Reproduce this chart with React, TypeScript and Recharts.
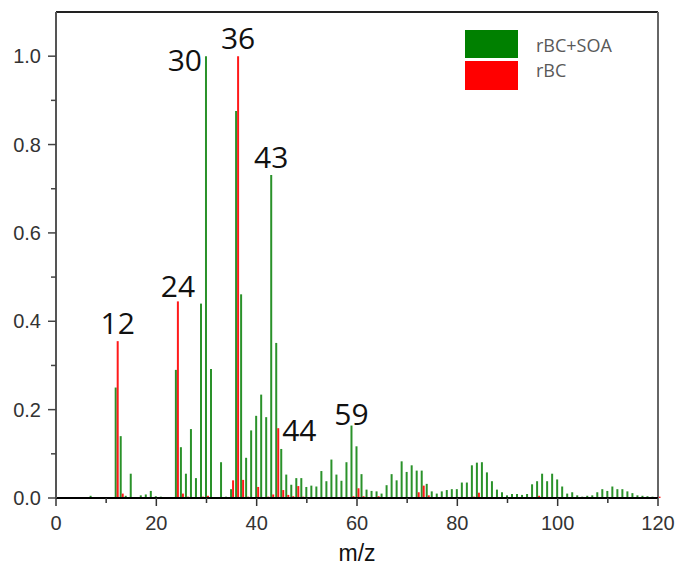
import React from 'react';
import { BarChart, Bar, XAxis, YAxis, ReferenceLine, Legend, LabelList } from 'recharts';

// m/z channels 1..120
const mzValues = Array.from({ length: 120 }, (_, i) => i + 1);

// normalised signal, rBC+SOA (green)
const soaValues = [
  0, 0, 0, 0, 0, 0, 0.005, 0, 0, 0,
  0, 0.25, 0.14, 0.005, 0.055, 0, 0.006, 0.008, 0.016, 0.004,
  0.003, 0, 0, 0.29, 0.115, 0.055, 0.156, 0.045, 0.44, 1.0,
  0.292, 0, 0.081, 0.003, 0.02, 0.876, 0.461, 0.091, 0.153, 0.186,
  0.234, 0.183, 0.731, 0.351, 0.111, 0.053, 0.03, 0.045, 0.045, 0.025,
  0.028, 0.026, 0.061, 0.038, 0.087, 0.053, 0.039, 0.081, 0.164, 0.117,
  0.054, 0.019, 0.016, 0.015, 0.01, 0.029, 0.054, 0.04, 0.083, 0.059,
  0.074, 0.062, 0.062, 0.032, 0.015, 0.01, 0.015, 0.018, 0.02, 0.02,
  0.035, 0.035, 0.074, 0.08, 0.081, 0.058, 0.038, 0.019, 0.013, 0.006,
  0.009, 0.009, 0.007, 0.009, 0.031, 0.038, 0.055, 0.038, 0.055, 0.042,
  0.026, 0.01, 0.013, 0.006, 0.003, 0.005, 0.006, 0.013, 0.02, 0.016,
  0.026, 0.02, 0.02, 0.015, 0.011, 0.006, 0.005, 0.004, 0.003, 0,
];

// normalised signal, rBC only (red)
const rbcValues = [
  0, 0, 0, 0, 0, 0, 0, 0, 0, 0,
  0, 0.355, 0.01, 0, 0, 0, 0, 0, 0, 0,
  0, 0, 0, 0.445, 0.01, 0.003, 0, 0, 0.003, 0.005,
  0.002, 0, 0, 0, 0.04, 1.0, 0.041, 0.003, 0, 0.025,
  0, 0.003, 0.008, 0.158, 0.018, 0.007, 0.004, 0.027, 0.003, 0,
  0, 0, 0, 0, 0, 0, 0, 0, 0.004, 0.022,
  0.004, 0, 0, 0.004, 0, 0, 0, 0, 0, 0,
  0, 0.013, 0.028, 0.006, 0, 0, 0, 0, 0, 0,
  0, 0, 0.003, 0.012, 0, 0, 0, 0, 0, 0,
  0, 0, 0, 0, 0, 0.005, 0, 0, 0, 0,
  0, 0, 0, 0, 0, 0, 0, 0, 0, 0,
  0, 0, 0, 0, 0, 0, 0, 0, 0, 0.003,
];

const xTicks = [0, 10, 20, 30, 40, 50, 60, 70, 80, 90, 100, 110, 120];
const yTicks = [0, 0.1, 0.2, 0.3, 0.4, 0.5, 0.6, 0.7, 0.8, 0.9, 1.0];

// annotated peaks: which series the label sits on
const soaPeaks = [30, 43, 59];
const rbcPeaks = [12, 24, 36, 44];

// label placement (style only)
const labelPlacement: Record<number, { side: string; gap: number }> = {
  12: { side: 'top', gap: 7 },
  24: { side: 'top', gap: 4 },
  30: { side: 'left', gap: 3 },
  36: { side: 'top', gap: 7 },
  43: { side: 'top', gap: 7 },
  44: { side: 'right', gap: 3 },
  59: { side: 'top', gap: 1 },
};

const data = mzValues.map((mz, i) => ({ mz, soa: soaValues[i], rbc: rbcValues[i] }));

const AXIS_FONT = '"Liberation Sans", Arial, sans-serif';
const X_TICK_SIZE = 8;
const X_TICK_MARGIN = 10;
const Y_TICK_SIZE = 8;
const Y_TICK_MARGIN = 7;

function XTick(props: any) {
  const { x, y, payload } = props;
  const axisY = y - X_TICK_SIZE - X_TICK_MARGIN;
  const major = payload.value % 20 === 0;
  return (
    <g>
      <line x1={x} x2={x} y1={axisY} y2={axisY + (major ? 8 : 5)} stroke="#333" strokeWidth={1.5} />
      {major && (
        <text x={x} y={y} dy="0.71em" textAnchor="middle" fill="#333" fontSize={20} fontFamily={AXIS_FONT}>
          {payload.value}
        </text>
      )}
    </g>
  );
}

function YTick(props: any) {
  const { x, y, payload } = props;
  const axisX = x + Y_TICK_SIZE + Y_TICK_MARGIN;
  const major = Math.round(payload.value * 10) % 2 === 0;
  return (
    <g>
      <line x1={axisX} x2={axisX - (major ? 8 : 5)} y1={y} y2={y} stroke="#444" strokeWidth={1.5} />
      {major && (
        <text x={x} y={y} dy="0.355em" textAnchor="end" fill="#333" fontSize={20} fontFamily={AXIS_FONT}>
          {payload.value.toFixed(1)}
        </text>
      )}
    </g>
  );
}

function makePeakLabel(peaks: number[]) {
  return (props: any) => {
    const { x, y, width, value } = props;
    const mz = Number(value);
    if (!peaks.includes(mz)) return null;
    const place = labelPlacement[mz];
    const common = { fontSize: 30, fontFamily: '"Open Sans", "Noto Sans", sans-serif', fill: '#111' };
    if (place.side === 'left') {
      return (
        <text key={`pk-${mz}`} x={x - place.gap} y={y + 15} textAnchor="end" {...common}>
          {mz}
        </text>
      );
    }
    if (place.side === 'right') {
      return (
        <text key={`pk-${mz}`} x={x + width + place.gap} y={y + 13} textAnchor="start" {...common}>
          {mz}
        </text>
      );
    }
    return (
      <text key={`pk-${mz}`} x={x + width / 2} y={y - place.gap} textAnchor="middle" {...common}>
        {mz}
      </text>
    );
  };
}

function LegendBox() {
  const textStyle: React.CSSProperties = {
    position: 'absolute',
    left: 71,
    fontFamily: '"Open Sans", "Noto Sans", sans-serif',
    fontSize: 18,
    color: '#595959',
    lineHeight: '20px',
    whiteSpace: 'nowrap',
  };
  return (
    <div style={{ position: 'relative', width: 170, height: 62 }}>
      <div style={{ position: 'absolute', left: 0, top: 0, width: 53, height: 28, background: '#008000' }} />
      <div style={{ position: 'absolute', left: 0, top: 31, width: 53, height: 29, background: '#ff0000' }} />
      <div style={{ ...textStyle, top: 5 }}>rBC+SOA</div>
      <div style={{ ...textStyle, top: 30 }}>rBC</div>
    </div>
  );
}

export default function App() {
  return (
    <div style={{ position: 'absolute', left: 0, top: 0, width: 677, height: 571, background: '#fff' }}>
      <BarChart
        width={677}
        height={571}
        data={data}
        margin={{ top: 12, right: 19, bottom: 0, left: 0 }}
        barGap={0}
      >
        <XAxis
          dataKey="mz"
          type="number"
          domain={[0, 120]}
          ticks={xTicks}
          interval={0}
          height={73}
          tickSize={X_TICK_SIZE}
          tickMargin={X_TICK_MARGIN}
          tickLine={false}
          axisLine={{ stroke: '#000', strokeWidth: 2 }}
          tick={<XTick />}
          label={{
            value: 'm/z',
            position: 'insideBottom',
            offset: 10,
            fill: '#111',
            fontSize: 23,
            fontFamily: AXIS_FONT,
          }}
        />
        <YAxis
          type="number"
          domain={[0, 1.1]}
          ticks={yTicks}
          interval={0}
          width={56}
          tickSize={Y_TICK_SIZE}
          tickMargin={Y_TICK_MARGIN}
          tickLine={false}
          axisLine={{ stroke: '#555', strokeWidth: 2 }}
          tick={<YTick />}
        />
        <ReferenceLine y={1.1} stroke="#222" strokeWidth={2} />
        <ReferenceLine x={120} stroke="#666" strokeWidth={2} />
        <Legend
          layout="horizontal"
          verticalAlign="middle"
          align="center"
          wrapperStyle={{ top: 30, left: 465, width: 170, height: 62 }}
          content={() => <LegendBox />}
        />
        <Bar dataKey="soa" name="rBC+SOA" fill="#2a922a" barSize={2} isAnimationActive={false}>
          <LabelList dataKey="mz" content={makePeakLabel(soaPeaks)} />
        </Bar>
        <Bar dataKey="rbc" name="rBC" fill="#ff1a1a" barSize={2} isAnimationActive={false}>
          <LabelList dataKey="mz" content={makePeakLabel(rbcPeaks)} />
        </Bar>
      </BarChart>
    </div>
  );
}
